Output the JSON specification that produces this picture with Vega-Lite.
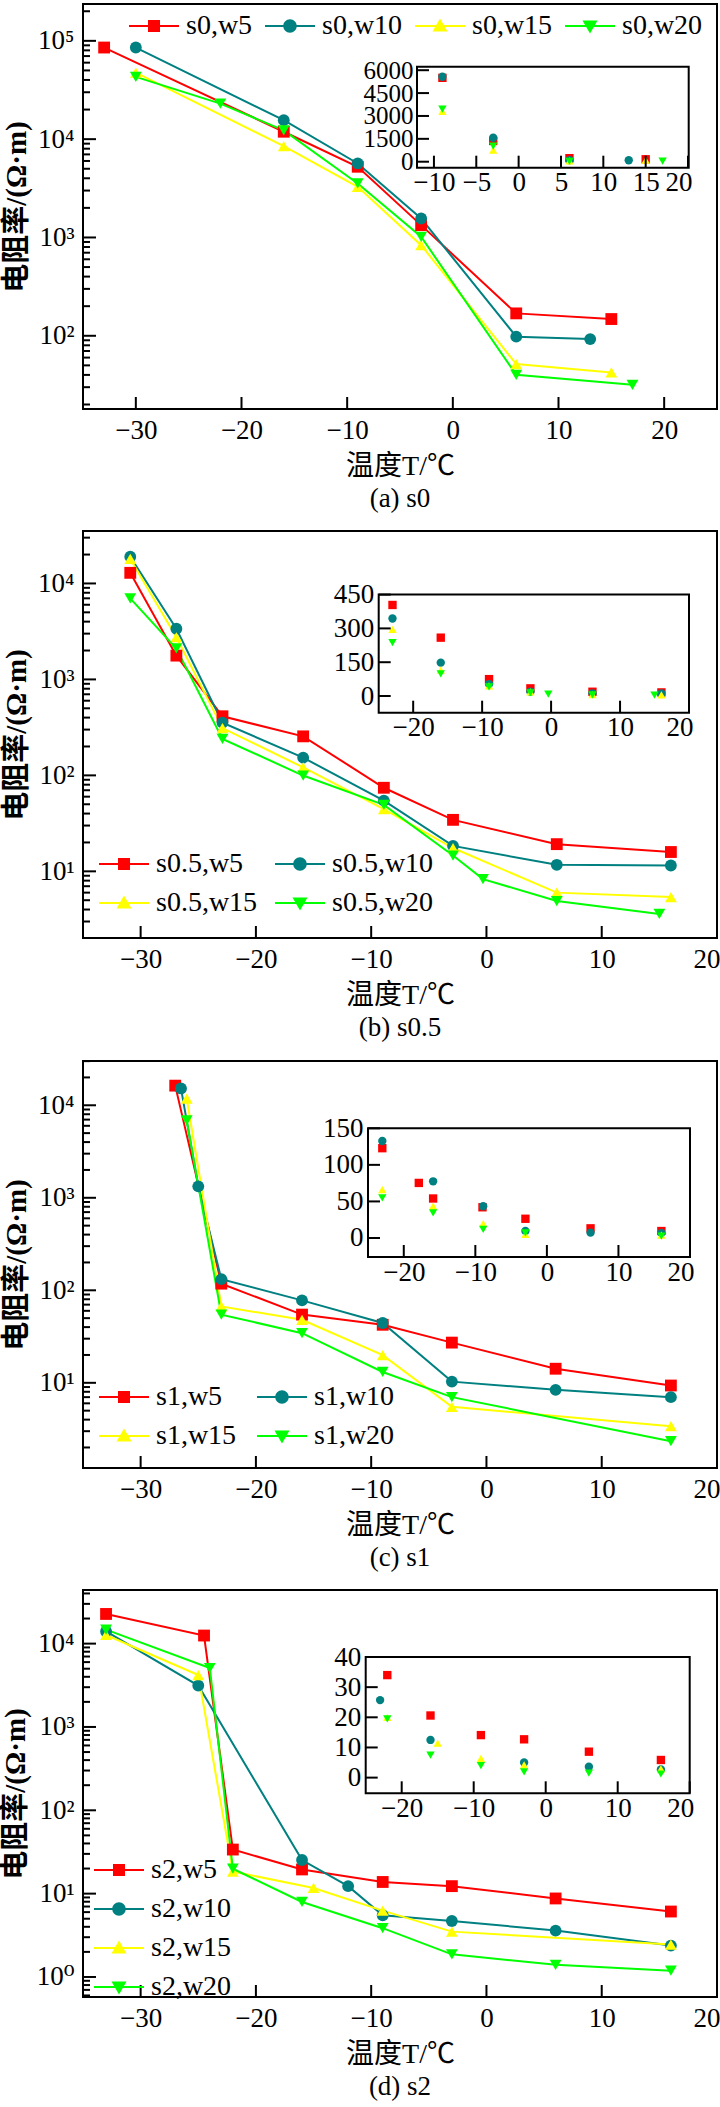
{
"$schema": "https://vega.github.io/schema/vega-lite/v6.json",
"padding": {"left": 0, "top": 0, "right": 0, "bottom": 0},
"background": "white",
"spacing": 17,
"datasets": {
"a": [
{"s":"s0,w5","T":-33,"R":85500},{"s":"s0,w5","T":-16,"R":11900},{"s":"s0,w5","T":-9,"R":5240},{"s":"s0,w5","T":-3,"R":1335},{"s":"s0,w5","T":6,"R":169},{"s":"s0,w5","T":15,"R":148},
{"s":"s0,w10","T":-30,"R":85500},{"s":"s0,w10","T":-16,"R":15600},{"s":"s0,w10","T":-9,"R":5660},{"s":"s0,w10","T":-3,"R":1560},{"s":"s0,w10","T":6,"R":98},{"s":"s0,w10","T":13,"R":92.5},
{"s":"s0,w15","T":-30,"R":47600},{"s":"s0,w15","T":-16,"R":8490},{"s":"s0,w15","T":-9,"R":3270},{"s":"s0,w15","T":-3,"R":835},{"s":"s0,w15","T":6,"R":51.5},{"s":"s0,w15","T":15,"R":42.4},
{"s":"s0,w20","T":-30,"R":43000},{"s":"s0,w20","T":-22,"R":23000},{"s":"s0,w20","T":-16,"R":12300},{"s":"s0,w20","T":-9,"R":3540},{"s":"s0,w20","T":-3,"R":1016},{"s":"s0,w20","T":6,"R":40.1},{"s":"s0,w20","T":17,"R":31.7}
],
"ai": [
{"s":"s0,w5","T":-9,"R":5500},{"s":"s0,w5","T":-3,"R":1360},{"s":"s0,w5","T":6,"R":230},{"s":"s0,w5","T":15,"R":160},
{"s":"s0,w10","T":-9,"R":5570},{"s":"s0,w10","T":-3,"R":1572},{"s":"s0,w10","T":6,"R":100},{"s":"s0,w10","T":13,"R":92},
{"s":"s0,w15","T":-9,"R":3300},{"s":"s0,w15","T":-3,"R":766},{"s":"s0,w15","T":6,"R":60},{"s":"s0,w15","T":15,"R":100},
{"s":"s0,w20","T":-9,"R":3450},{"s":"s0,w20","T":-3,"R":1028},{"s":"s0,w20","T":6,"R":30},{"s":"s0,w20","T":17,"R":32}
],
"b": [
{"s":"s0.5,w5","T":-30.9,"R":12900},{"s":"s0.5,w5","T":-26.9,"R":1770},{"s":"s0.5,w5","T":-22.9,"R":413},{"s":"s0.5,w5","T":-15.9,"R":255},{"s":"s0.5,w5","T":-8.9,"R":74.3},{"s":"s0.5,w5","T":-2.9,"R":34.4},{"s":"s0.5,w5","T":6.1,"R":19.2},{"s":"s0.5,w5","T":16,"R":15.9},
{"s":"s0.5,w10","T":-30.9,"R":19000},{"s":"s0.5,w10","T":-26.9,"R":3370},{"s":"s0.5,w10","T":-22.9,"R":354},{"s":"s0.5,w10","T":-15.9,"R":153},{"s":"s0.5,w10","T":-8.9,"R":54.6},{"s":"s0.5,w10","T":-2.9,"R":18.4},{"s":"s0.5,w10","T":6.1,"R":11.7},{"s":"s0.5,w10","T":16,"R":11.5},
{"s":"s0.5,w15","T":-30.9,"R":18000},{"s":"s0.5,w15","T":-26.9,"R":2750},{"s":"s0.5,w15","T":-22.9,"R":311},{"s":"s0.5,w15","T":-15.9,"R":121},{"s":"s0.5,w15","T":-8.9,"R":44.5},{"s":"s0.5,w15","T":-2.9,"R":17.5},{"s":"s0.5,w15","T":6.1,"R":6.0},{"s":"s0.5,w15","T":16,"R":5.4},
{"s":"s0.5,w20","T":-30.9,"R":6980},{"s":"s0.5,w20","T":-26.9,"R":2100},{"s":"s0.5,w20","T":-22.9,"R":240},{"s":"s0.5,w20","T":-15.9,"R":99.6},{"s":"s0.5,w20","T":-8.9,"R":49.3},{"s":"s0.5,w20","T":-2.9,"R":14.6},{"s":"s0.5,w20","T":-0.3,"R":8.3},{"s":"s0.5,w20","T":6.1,"R":4.9},{"s":"s0.5,w20","T":15,"R":3.6}
],
"bi": [
{"s":"s0.5,w5","T":-23,"R":404},{"s":"s0.5,w5","T":-16,"R":259},{"s":"s0.5,w5","T":-9,"R":75},{"s":"s0.5,w5","T":-3,"R":34},{"s":"s0.5,w5","T":6,"R":19},{"s":"s0.5,w5","T":16,"R":16},
{"s":"s0.5,w10","T":-23,"R":344},{"s":"s0.5,w10","T":-16,"R":148},{"s":"s0.5,w10","T":-9,"R":53},{"s":"s0.5,w10","T":-3,"R":19},{"s":"s0.5,w10","T":6,"R":12},{"s":"s0.5,w10","T":16,"R":11.5},
{"s":"s0.5,w15","T":-23,"R":296},{"s":"s0.5,w15","T":-16,"R":115},{"s":"s0.5,w15","T":-9,"R":45},{"s":"s0.5,w15","T":-3,"R":18},{"s":"s0.5,w15","T":6,"R":6},{"s":"s0.5,w15","T":16,"R":5.4},
{"s":"s0.5,w20","T":-23,"R":237},{"s":"s0.5,w20","T":-16,"R":98},{"s":"s0.5,w20","T":-9,"R":41},{"s":"s0.5,w20","T":-3,"R":14},{"s":"s0.5,w20","T":-0.4,"R":8},{"s":"s0.5,w20","T":6,"R":5},{"s":"s0.5,w20","T":15,"R":3.6}
],
"c": [
{"s":"s1,w5","T":-27,"R":16300},{"s":"s1,w5","T":-23,"R":118},{"s":"s1,w5","T":-16,"R":54.6},{"s":"s1,w5","T":-9,"R":42.4},{"s":"s1,w5","T":-3,"R":27.2},{"s":"s1,w5","T":6,"R":14.2},{"s":"s1,w5","T":16,"R":9.35},
{"s":"s1,w10","T":-26.5,"R":15200},{"s":"s1,w10","T":-25,"R":1330},{"s":"s1,w10","T":-23,"R":132},{"s":"s1,w10","T":-16,"R":77.8},{"s":"s1,w10","T":-9,"R":44.3},{"s":"s1,w10","T":-3,"R":10.3},{"s":"s1,w10","T":6,"R":8.4},{"s":"s1,w10","T":16,"R":7.0},
{"s":"s1,w15","T":-26,"R":11800},{"s":"s1,w15","T":-23,"R":67},{"s":"s1,w15","T":-16,"R":48},{"s":"s1,w15","T":-9,"R":19.9},{"s":"s1,w15","T":-3,"R":5.5},{"s":"s1,w15","T":16,"R":3.4},
{"s":"s1,w20","T":-26,"R":6850},{"s":"s1,w20","T":-23,"R":54.6},{"s":"s1,w20","T":-16,"R":34.4},{"s":"s1,w20","T":-9,"R":13.1},{"s":"s1,w20","T":-3,"R":7.0},{"s":"s1,w20","T":16,"R":2.34}
],
"ci": [
{"s":"s1,w5","T":-23,"R":122.8},{"s":"s1,w5","T":-17.9,"R":75.3},{"s":"s1,w5","T":-15.9,"R":54},{"s":"s1,w5","T":-9,"R":42},{"s":"s1,w5","T":-3,"R":26.3},{"s":"s1,w5","T":6.1,"R":13.2},{"s":"s1,w5","T":16,"R":9.5},
{"s":"s1,w10","T":-23,"R":132.7},{"s":"s1,w10","T":-15.9,"R":77.5},{"s":"s1,w10","T":-8.9,"R":43.5},{"s":"s1,w10","T":-3,"R":9.5},{"s":"s1,w10","T":6.1,"R":7.3},{"s":"s1,w10","T":16,"R":7},
{"s":"s1,w15","T":-23,"R":66},{"s":"s1,w15","T":-15.9,"R":43.5},{"s":"s1,w15","T":-8.9,"R":19.5},{"s":"s1,w15","T":-3,"R":5},{"s":"s1,w15","T":16,"R":4},
{"s":"s1,w20","T":-23,"R":55},{"s":"s1,w20","T":-15.9,"R":34.5},{"s":"s1,w20","T":-8.9,"R":11.8},{"s":"s1,w20","T":-3,"R":7},{"s":"s1,w20","T":16,"R":2.5}
],
"d": [
{"s":"s2,w5","T":-33,"R":22700},{"s":"s2,w5","T":-24.5,"R":12500},{"s":"s2,w5","T":-22,"R":33.8},{"s":"s2,w5","T":-16,"R":19.5},{"s":"s2,w5","T":-9,"R":13.8},{"s":"s2,w5","T":-3,"R":12.3},{"s":"s2,w5","T":6,"R":8.75},{"s":"s2,w5","T":16,"R":6.1},
{"s":"s2,w10","T":-33,"R":14000},{"s":"s2,w10","T":-25,"R":3140},{"s":"s2,w10","T":-16,"R":25.3},{"s":"s2,w10","T":-12,"R":12.3},{"s":"s2,w10","T":-9,"R":5.5},{"s":"s2,w10","T":-3,"R":4.7},{"s":"s2,w10","T":6,"R":3.6},{"s":"s2,w10","T":16,"R":2.38},
{"s":"s2,w15","T":-33,"R":12700},{"s":"s2,w15","T":-25,"R":4200},{"s":"s2,w15","T":-22,"R":18.4},{"s":"s2,w15","T":-15,"R":11.7},{"s":"s2,w15","T":-9,"R":6.25},{"s":"s2,w15","T":-3,"R":3.5},{"s":"s2,w15","T":16,"R":2.45},
{"s":"s2,w20","T":-33,"R":14700},{"s":"s2,w20","T":-24,"R":5090},{"s":"s2,w20","T":-22,"R":19.9},{"s":"s2,w20","T":-16,"R":7.94},{"s":"s2,w20","T":-9,"R":3.85},{"s":"s2,w20","T":-3,"R":1.87},{"s":"s2,w20","T":6,"R":1.4},{"s":"s2,w20","T":16,"R":1.19}
],
"di": [
{"s":"s2,w5","T":-22,"R":34},{"s":"s2,w5","T":-16,"R":20.6},{"s":"s2,w5","T":-9,"R":14.1},{"s":"s2,w5","T":-3,"R":12.7},{"s":"s2,w5","T":6,"R":8.6},{"s":"s2,w5","T":16,"R":5.85},
{"s":"s2,w10","T":-23,"R":25.7},{"s":"s2,w10","T":-16,"R":12.5},{"s":"s2,w10","T":-3,"R":5},{"s":"s2,w10","T":6,"R":3.6},{"s":"s2,w10","T":16,"R":2.7},
{"s":"s2,w15","T":-22,"R":20},{"s":"s2,w15","T":-15,"R":11.4},{"s":"s2,w15","T":-9,"R":6.4},{"s":"s2,w15","T":-3,"R":4.2},{"s":"s2,w15","T":16,"R":2.9},
{"s":"s2,w20","T":-22,"R":19.5},{"s":"s2,w20","T":-16,"R":7.5},{"s":"s2,w20","T":-9,"R":4},{"s":"s2,w20","T":-3,"R":1.9},{"s":"s2,w20","T":6,"R":1.5},{"s":"s2,w20","T":16,"R":1.2}
],
"xt": [{"v":-30},{"v":-20},{"v":-10},{"v":0},{"v":10},{"v":20}],
"yma": [{"v":100},{"v":1000},{"v":10000},{"v":100000}],
"ymi_a": [{"v":20},{"v":30},{"v":40},{"v":50},{"v":60},{"v":70},{"v":80},{"v":90},{"v":200},{"v":300},{"v":400},{"v":500},{"v":600},{"v":700},{"v":800},{"v":900},{"v":2000},{"v":3000},{"v":4000},{"v":5000},{"v":6000},{"v":7000},{"v":8000},{"v":9000},{"v":20000},{"v":30000},{"v":40000},{"v":50000},{"v":60000},{"v":70000},{"v":80000},{"v":90000},{"v":200000}],
"ymbc": [{"v":10},{"v":100},{"v":1000},{"v":10000}],
"ymi_b": [{"v":3},{"v":4},{"v":5},{"v":6},{"v":7},{"v":8},{"v":9},{"v":20},{"v":30},{"v":40},{"v":50},{"v":60},{"v":70},{"v":80},{"v":90},{"v":200},{"v":300},{"v":400},{"v":500},{"v":600},{"v":700},{"v":800},{"v":900},{"v":2000},{"v":3000},{"v":4000},{"v":5000},{"v":6000},{"v":7000},{"v":8000},{"v":9000},{"v":20000},{"v":30000}],
"ymi_c": [{"v":2},{"v":3},{"v":4},{"v":5},{"v":6},{"v":7},{"v":8},{"v":9},{"v":20},{"v":30},{"v":40},{"v":50},{"v":60},{"v":70},{"v":80},{"v":90},{"v":200},{"v":300},{"v":400},{"v":500},{"v":600},{"v":700},{"v":800},{"v":900},{"v":2000},{"v":3000},{"v":4000},{"v":5000},{"v":6000},{"v":7000},{"v":8000},{"v":9000},{"v":20000},{"v":30000}],
"ymd": [{"v":1},{"v":10},{"v":100},{"v":1000},{"v":10000}],
"ymi_d": [{"v":0.6},{"v":0.7},{"v":0.8},{"v":0.9},{"v":2},{"v":3},{"v":4},{"v":5},{"v":6},{"v":7},{"v":8},{"v":9},{"v":20},{"v":30},{"v":40},{"v":50},{"v":60},{"v":70},{"v":80},{"v":90},{"v":200},{"v":300},{"v":400},{"v":500},{"v":600},{"v":700},{"v":800},{"v":900},{"v":2000},{"v":3000},{"v":4000},{"v":5000},{"v":6000},{"v":7000},{"v":8000},{"v":9000},{"v":20000},{"v":30000},{"v":40000}],
"ixa": [{"v":-10},{"v":-5},{"v":0},{"v":5},{"v":10},{"v":15},{"v":20}],
"iya": [{"v":0},{"v":1500},{"v":3000},{"v":4500},{"v":6000}],
"ix": [{"v":-20},{"v":-10},{"v":0},{"v":10},{"v":20}],
"iyb": [{"v":0},{"v":150},{"v":300},{"v":450}],
"iyc": [{"v":0},{"v":50},{"v":100},{"v":150}],
"iyd": [{"v":0},{"v":10},{"v":20},{"v":30},{"v":40}]
},
"vconcat": [
{
"width": 634, "height": 405,
"title": {"text": "(a) s0"},
"layer": [
{
"data": {"name": "a"},
"layer": [
{"mark": {"type": "line", "strokeWidth": 2},
 "encoding": {
  "x": {"field": "T", "type": "quantitative", "scale": {"domain": [-35, 25], "nice": false, "zero": false}, "axis": {"values": [-30,-20,-10,0,10,20], "title": "温度T/℃", "ticks": false, "tickSize": 0, "labelPadding": 8}},
  "y": {"field": "R", "type": "quantitative", "scale": {"type": "log", "domain": [18, 237000], "nice": false}, "axis": {"orient": "left", "ticks": false, "tickSize": 0, "labelPadding": 9, "values": [100,1000,10000,100000], "title": "电阻率/(Ω·m)", "labelExpr": "datum.value < 5 ? '10⁰' : datum.value < 50 ? '10¹' : datum.value < 500 ? '10²' : datum.value < 5000 ? '10³' : datum.value < 50000 ? '10⁴' : '10⁵'"}},
  "color": {"field": "s", "type": "nominal", "scale": {"domain": ["s0,w5","s0,w10","s0,w15","s0,w20"], "range": ["#ff0000","#008080","#ffff00","#00ff00"]}, "legend": null}
 }},
{"mark": {"type": "point", "filled": true, "size": 140, "opacity": 1},
 "encoding": {
  "x": {"field": "T", "type": "quantitative"},
  "y": {"field": "R", "type": "quantitative", "axis": null},
  "color": {"field": "s", "type": "nominal", "scale": {"domain": ["s0,w5","s0,w10","s0,w15","s0,w20"], "range": ["#ff0000","#008080","#ffff00","#00ff00"]}, "legend": null},
  "shape": {"field": "s", "type": "nominal", "scale": {"domain": ["s0,w5","s0,w10","s0,w15","s0,w20"], "range": ["square","circle","triangle-up","triangle-down"]}, "legend": null}
 }},
{"data": {"name": "yma"}, "mark": {"type": "tick", "orient": "horizontal", "size": 13, "thickness": 2, "color": "black", "opacity": 1, "xOffset": 6.5},
 "encoding": {"x": {"datum": -35, "type": "quantitative"}, "y": {"field": "v", "type": "quantitative", "axis": null}}},
{"data": {"name": "ymi_a"}, "mark": {"type": "tick", "orient": "horizontal", "size": 7, "thickness": 2, "color": "black", "opacity": 1, "xOffset": 3.5},
 "encoding": {"x": {"datum": -35, "type": "quantitative"}, "y": {"field": "v", "type": "quantitative", "axis": null}}},
{"data": {"name": "xt"}, "mark": {"type": "tick", "orient": "vertical", "size": 12, "thickness": 2, "color": "black", "opacity": 1, "yOffset": -6},
 "encoding": {"x": {"field": "v", "type": "quantitative"}, "y": {"datum": 18, "type": "quantitative", "axis": null}}}
],
"resolve": {"axis": {"y": "independent"}}
},
{
"layer": [
{"data": {"values": [{}]},
 "mark": {"type": "rect", "fillOpacity": 0, "stroke": "black", "strokeWidth": 2},
 "encoding": {
  "x": {"datum": -12, "type": "quantitative", "scale": {"domain": [-12, 20.08], "range": [334, 605.7], "nice": false, "zero": false}, "axis": {"orient": "bottom", "offset": -241.3, "values": [-10,-5,0,5,10,15,20], "title": null, "ticks": false, "tickSize": 0, "labelPadding": 2, "labelFlush": true, "labelFlushOffset": 4}},
  "x2": {"datum": 20.08},
  "y": {"datum": -393, "type": "quantitative", "scale": {"domain": [-393, 6230], "range": [163.7, 62.7], "nice": false, "zero": false}, "axis": {"orient": "left", "offset": -334, "values": [0,1500,3000,4500,6000], "format": "d", "labelFontSize": 25, "title": null, "ticks": false, "tickSize": 0, "labelPadding": 4}},
  "y2": {"datum": 6230}
 }},
{"data": {"name": "ai"},
 "mark": {"type": "point", "filled": true, "size": 70, "opacity": 1},
 "encoding": {
  "x": {"field": "T", "type": "quantitative"},
  "y": {"field": "R", "type": "quantitative"},
  "color": {"field": "s", "type": "nominal", "scale": {"domain": ["s0,w5","s0,w10","s0,w15","s0,w20"], "range": ["#ff0000","#008080","#ffff00","#00ff00"]}, "legend": null},
  "shape": {"field": "s", "type": "nominal", "scale": {"domain": ["s0,w5","s0,w10","s0,w15","s0,w20"], "range": ["square","circle","triangle-up","triangle-down"]}, "legend": null}
 }},
{"data": {"name": "ixa"}, "mark": {"type": "tick", "orient": "vertical", "size": 12, "thickness": 2, "color": "black", "opacity": 1, "yOffset": -6},
 "encoding": {"x": {"field": "v", "type": "quantitative"}, "y": {"datum": -393, "type": "quantitative"}}},
{"data": {"name": "iya"}, "mark": {"type": "tick", "orient": "horizontal", "size": 12, "thickness": 2, "color": "black", "opacity": 1, "xOffset": 6},
 "encoding": {"x": {"datum": -12, "type": "quantitative"}, "y": {"field": "v", "type": "quantitative"}}},
{"data": {"name": "a"},
 "transform": [{"filter": "false"}],
 "mark": {"type": "point", "filled": true},
 "encoding": {
  "x": {"field": "T", "type": "quantitative"},
  "y": {"field": "R", "type": "quantitative"},
  "color": {"field": "s", "type": "nominal", "scale": {"domain": ["s0,w5","s0,w10","s0,w15","s0,w20"], "range": ["#ff0000","#008080","#ffff00","#00ff00"]}, "legend": {"orient": "none", "legendX": 46, "legendY": -3, "direction": "horizontal", "columns": 4, "columnPadding": 12, "rowPadding": 0, "title": null}},
  "shape": {"field": "s", "type": "nominal", "scale": {"domain": ["s0,w5","s0,w10","s0,w15","s0,w20"], "range": ["M-1,-0.04H1V0.04H-1Z M-0.24,-0.24H0.24V0.24H-0.24Z","M-1,-0.04H1V0.04H-1Z M-0.27,0A0.27,0.27,0,1,1,0.27,0A0.27,0.27,0,1,1,-0.27,0Z","M-1,-0.04H1V0.04H-1Z M0,-0.3L0.3,0.22L-0.3,0.22Z","M-1,-0.04H1V0.04H-1Z M0,0.3L-0.3,-0.22L0.3,-0.22Z"]}, "legend": {"orient": "none", "legendX": 46, "legendY": -3, "direction": "horizontal", "columns": 4, "columnPadding": 12, "rowPadding": 0, "title": null}}
 }}
],
"resolve": {"scale": {"color": "independent", "shape": "independent"}, "legend": {"color": "independent", "shape": "independent"}}
}
],
"resolve": {"scale": {"x": "independent", "y": "independent", "color": "independent", "shape": "independent"}, "axis": {"x": "independent", "y": "independent"}, "legend": {"color": "independent", "shape": "independent"}}
},
{
"width": 634, "height": 407,
"title": {"text": "(b) s0.5"},
"layer": [
{
"data": {"name": "b"},
"layer": [
{"mark": {"type": "line", "strokeWidth": 2},
 "encoding": {
  "x": {"field": "T", "type": "quantitative", "scale": {"domain": [-35, 20], "nice": false, "zero": false}, "axis": {"values": [-30,-20,-10,0,10,20], "title": "温度T/℃", "ticks": false, "tickSize": 0, "labelPadding": 8, "labelFlush": true, "labelFlushOffset": 3}},
  "y": {"field": "R", "type": "quantitative", "scale": {"type": "log", "domain": [2.02, 35200], "nice": false}, "axis": {"orient": "left", "ticks": false, "tickSize": 0, "labelPadding": 9, "values": [10,100,1000,10000], "title": "电阻率/(Ω·m)", "labelExpr": "datum.value < 5 ? '10⁰' : datum.value < 50 ? '10¹' : datum.value < 500 ? '10²' : datum.value < 5000 ? '10³' : datum.value < 50000 ? '10⁴' : '10⁵'"}},
  "color": {"field": "s", "type": "nominal", "scale": {"domain": ["s0.5,w5","s0.5,w10","s0.5,w15","s0.5,w20"], "range": ["#ff0000","#008080","#ffff00","#00ff00"]}, "legend": null}
 }},
{"mark": {"type": "point", "filled": true, "size": 140, "opacity": 1},
 "encoding": {
  "x": {"field": "T", "type": "quantitative"},
  "y": {"field": "R", "type": "quantitative", "axis": null},
  "color": {"field": "s", "type": "nominal", "scale": {"domain": ["s0.5,w5","s0.5,w10","s0.5,w15","s0.5,w20"], "range": ["#ff0000","#008080","#ffff00","#00ff00"]}, "legend": null},
  "shape": {"field": "s", "type": "nominal", "scale": {"domain": ["s0.5,w5","s0.5,w10","s0.5,w15","s0.5,w20"], "range": ["square","circle","triangle-up","triangle-down"]}, "legend": null}
 }},
{"data": {"name": "ymbc"}, "mark": {"type": "tick", "orient": "horizontal", "size": 13, "thickness": 2, "color": "black", "opacity": 1, "xOffset": 6.5},
 "encoding": {"x": {"datum": -35, "type": "quantitative"}, "y": {"field": "v", "type": "quantitative", "axis": null}}},
{"data": {"name": "ymi_b"}, "mark": {"type": "tick", "orient": "horizontal", "size": 7, "thickness": 2, "color": "black", "opacity": 1, "xOffset": 3.5},
 "encoding": {"x": {"datum": -35, "type": "quantitative"}, "y": {"field": "v", "type": "quantitative", "axis": null}}},
{"data": {"name": "xt"}, "mark": {"type": "tick", "orient": "vertical", "size": 12, "thickness": 2, "color": "black", "opacity": 1, "yOffset": -6},
 "encoding": {"x": {"field": "v", "type": "quantitative"}, "y": {"datum": 2.02, "type": "quantitative", "axis": null}}}
],
"resolve": {"axis": {"y": "independent"}}
},
{
"layer": [
{"data": {"values": [{}]},
 "mark": {"type": "rect", "fillOpacity": 0, "stroke": "black", "strokeWidth": 2},
 "encoding": {
  "x": {"datum": -25, "type": "quantitative", "scale": {"domain": [-25, 20], "range": [295.7, 606], "nice": false, "zero": false}, "axis": {"orient": "bottom", "offset": -225.3, "values": [-20,-10,0,10,20], "title": null, "ticks": false, "tickSize": 0, "labelPadding": 2, "labelFlush": true, "labelFlushOffset": 4}},
  "x2": {"datum": 20},
  "y": {"datum": -74, "type": "quantitative", "scale": {"domain": [-74, 450], "range": [181.7, 63.6], "nice": false, "zero": false}, "axis": {"orient": "left", "offset": -295.7, "values": [0,150,300,450], "format": "d", "title": null, "ticks": false, "tickSize": 0, "labelPadding": 5}},
  "y2": {"datum": 450}
 }},
{"data": {"name": "bi"},
 "mark": {"type": "point", "filled": true, "size": 70, "opacity": 1},
 "encoding": {
  "x": {"field": "T", "type": "quantitative"},
  "y": {"field": "R", "type": "quantitative"},
  "color": {"field": "s", "type": "nominal", "scale": {"domain": ["s0.5,w5","s0.5,w10","s0.5,w15","s0.5,w20"], "range": ["#ff0000","#008080","#ffff00","#00ff00"]}, "legend": null},
  "shape": {"field": "s", "type": "nominal", "scale": {"domain": ["s0.5,w5","s0.5,w10","s0.5,w15","s0.5,w20"], "range": ["square","circle","triangle-up","triangle-down"]}, "legend": null}
 }},
{"data": {"name": "ix"}, "mark": {"type": "tick", "orient": "vertical", "size": 12, "thickness": 2, "color": "black", "opacity": 1, "yOffset": -6},
 "encoding": {"x": {"field": "v", "type": "quantitative"}, "y": {"datum": -74, "type": "quantitative"}}},
{"data": {"name": "iyb"}, "mark": {"type": "tick", "orient": "horizontal", "size": 12, "thickness": 2, "color": "black", "opacity": 1, "xOffset": 6},
 "encoding": {"x": {"datum": -25, "type": "quantitative"}, "y": {"field": "v", "type": "quantitative"}}},
{"data": {"name": "b"},
 "transform": [{"filter": "false"}],
 "mark": {"type": "point", "filled": true},
 "encoding": {
  "x": {"field": "T", "type": "quantitative"},
  "y": {"field": "R", "type": "quantitative"},
  "color": {"field": "s", "type": "nominal", "scale": {"domain": ["s0.5,w5","s0.5,w10","s0.5,w15","s0.5,w20"], "range": ["#ff0000","#008080","#ffff00","#00ff00"]}, "legend": {"orient": "none", "legendX": 16, "legendY": 308, "direction": "horizontal", "columns": 2, "columnPadding": 17, "rowPadding": -11, "title": null}},
  "shape": {"field": "s", "type": "nominal", "scale": {"domain": ["s0.5,w5","s0.5,w10","s0.5,w15","s0.5,w20"], "range": ["M-1,-0.04H1V0.04H-1Z M-0.24,-0.24H0.24V0.24H-0.24Z","M-1,-0.04H1V0.04H-1Z M-0.27,0A0.27,0.27,0,1,1,0.27,0A0.27,0.27,0,1,1,-0.27,0Z","M-1,-0.04H1V0.04H-1Z M0,-0.3L0.3,0.22L-0.3,0.22Z","M-1,-0.04H1V0.04H-1Z M0,0.3L-0.3,-0.22L0.3,-0.22Z"]}, "legend": {"orient": "none", "legendX": 16, "legendY": 308, "direction": "horizontal", "columns": 2, "columnPadding": 17, "rowPadding": -11, "title": null}}
 }}
],
"resolve": {"scale": {"color": "independent", "shape": "independent"}, "legend": {"color": "independent", "shape": "independent"}}
}
],
"resolve": {"scale": {"x": "independent", "y": "independent", "color": "independent", "shape": "independent"}, "axis": {"x": "independent", "y": "independent"}, "legend": {"color": "independent", "shape": "independent"}}
},
{
"width": 634, "height": 407,
"title": {"text": "(c) s1"},
"layer": [
{
"data": {"name": "c"},
"layer": [
{"mark": {"type": "line", "strokeWidth": 2},
 "encoding": {
  "x": {"field": "T", "type": "quantitative", "scale": {"domain": [-35, 20], "nice": false, "zero": false}, "axis": {"values": [-30,-20,-10,0,10,20], "title": "温度T/℃", "ticks": false, "tickSize": 0, "labelPadding": 8, "labelFlush": true, "labelFlushOffset": 3}},
  "y": {"field": "R", "type": "quantitative", "scale": {"type": "log", "domain": [1.2, 30100], "nice": false}, "axis": {"orient": "left", "ticks": false, "tickSize": 0, "labelPadding": 9, "values": [10,100,1000,10000], "title": "电阻率/(Ω·m)", "labelExpr": "datum.value < 5 ? '10⁰' : datum.value < 50 ? '10¹' : datum.value < 500 ? '10²' : datum.value < 5000 ? '10³' : datum.value < 50000 ? '10⁴' : '10⁵'"}},
  "color": {"field": "s", "type": "nominal", "scale": {"domain": ["s1,w5","s1,w10","s1,w15","s1,w20"], "range": ["#ff0000","#008080","#ffff00","#00ff00"]}, "legend": null}
 }},
{"mark": {"type": "point", "filled": true, "size": 140, "opacity": 1},
 "encoding": {
  "x": {"field": "T", "type": "quantitative"},
  "y": {"field": "R", "type": "quantitative", "axis": null},
  "color": {"field": "s", "type": "nominal", "scale": {"domain": ["s1,w5","s1,w10","s1,w15","s1,w20"], "range": ["#ff0000","#008080","#ffff00","#00ff00"]}, "legend": null},
  "shape": {"field": "s", "type": "nominal", "scale": {"domain": ["s1,w5","s1,w10","s1,w15","s1,w20"], "range": ["square","circle","triangle-up","triangle-down"]}, "legend": null}
 }},
{"data": {"name": "ymbc"}, "mark": {"type": "tick", "orient": "horizontal", "size": 13, "thickness": 2, "color": "black", "opacity": 1, "xOffset": 6.5},
 "encoding": {"x": {"datum": -35, "type": "quantitative"}, "y": {"field": "v", "type": "quantitative", "axis": null}}},
{"data": {"name": "ymi_c"}, "mark": {"type": "tick", "orient": "horizontal", "size": 7, "thickness": 2, "color": "black", "opacity": 1, "xOffset": 3.5},
 "encoding": {"x": {"datum": -35, "type": "quantitative"}, "y": {"field": "v", "type": "quantitative", "axis": null}}},
{"data": {"name": "xt"}, "mark": {"type": "tick", "orient": "vertical", "size": 12, "thickness": 2, "color": "black", "opacity": 1, "yOffset": -6},
 "encoding": {"x": {"field": "v", "type": "quantitative"}, "y": {"datum": 1.2, "type": "quantitative", "axis": null}}}
],
"resolve": {"axis": {"y": "independent"}}
},
{
"layer": [
{"data": {"values": [{}]},
 "mark": {"type": "rect", "fillOpacity": 0, "stroke": "black", "strokeWidth": 2},
 "encoding": {
  "x": {"datum": -25, "type": "quantitative", "scale": {"domain": [-25, 20], "range": [285, 607], "nice": false, "zero": false}, "axis": {"orient": "bottom", "offset": -211, "values": [-20,-10,0,10,20], "title": null, "ticks": false, "tickSize": 0, "labelPadding": 2, "labelFlush": true, "labelFlushOffset": 4}},
  "x2": {"datum": 20},
  "y": {"datum": -26, "type": "quantitative", "scale": {"domain": [-26, 150], "range": [196, 67.3], "nice": false, "zero": false}, "axis": {"orient": "left", "offset": -285, "values": [0,50,100,150], "format": "d", "title": null, "ticks": false, "tickSize": 0, "labelPadding": 5}},
  "y2": {"datum": 150}
 }},
{"data": {"name": "ci"},
 "mark": {"type": "point", "filled": true, "size": 70, "opacity": 1},
 "encoding": {
  "x": {"field": "T", "type": "quantitative"},
  "y": {"field": "R", "type": "quantitative"},
  "color": {"field": "s", "type": "nominal", "scale": {"domain": ["s1,w5","s1,w10","s1,w15","s1,w20"], "range": ["#ff0000","#008080","#ffff00","#00ff00"]}, "legend": null},
  "shape": {"field": "s", "type": "nominal", "scale": {"domain": ["s1,w5","s1,w10","s1,w15","s1,w20"], "range": ["square","circle","triangle-up","triangle-down"]}, "legend": null}
 }},
{"data": {"name": "ix"}, "mark": {"type": "tick", "orient": "vertical", "size": 12, "thickness": 2, "color": "black", "opacity": 1, "yOffset": -6},
 "encoding": {"x": {"field": "v", "type": "quantitative"}, "y": {"datum": -26, "type": "quantitative"}}},
{"data": {"name": "iyc"}, "mark": {"type": "tick", "orient": "horizontal", "size": 12, "thickness": 2, "color": "black", "opacity": 1, "xOffset": 6},
 "encoding": {"x": {"datum": -25, "type": "quantitative"}, "y": {"field": "v", "type": "quantitative"}}},
{"data": {"name": "c"},
 "transform": [{"filter": "false"}],
 "mark": {"type": "point", "filled": true},
 "encoding": {
  "x": {"field": "T", "type": "quantitative"},
  "y": {"field": "R", "type": "quantitative"},
  "color": {"field": "s", "type": "nominal", "scale": {"domain": ["s1,w5","s1,w10","s1,w15","s1,w20"], "range": ["#ff0000","#008080","#ffff00","#00ff00"]}, "legend": {"orient": "none", "legendX": 16, "legendY": 311, "direction": "horizontal", "columns": 2, "columnPadding": 20, "rowPadding": -10, "title": null}},
  "shape": {"field": "s", "type": "nominal", "scale": {"domain": ["s1,w5","s1,w10","s1,w15","s1,w20"], "range": ["M-1,-0.04H1V0.04H-1Z M-0.24,-0.24H0.24V0.24H-0.24Z","M-1,-0.04H1V0.04H-1Z M-0.27,0A0.27,0.27,0,1,1,0.27,0A0.27,0.27,0,1,1,-0.27,0Z","M-1,-0.04H1V0.04H-1Z M0,-0.3L0.3,0.22L-0.3,0.22Z","M-1,-0.04H1V0.04H-1Z M0,0.3L-0.3,-0.22L0.3,-0.22Z"]}, "legend": {"orient": "none", "legendX": 16, "legendY": 311, "direction": "horizontal", "columns": 2, "columnPadding": 20, "rowPadding": -10, "title": null}}
 }}
],
"resolve": {"scale": {"color": "independent", "shape": "independent"}, "legend": {"color": "independent", "shape": "independent"}}
}
],
"resolve": {"scale": {"x": "independent", "y": "independent", "color": "independent", "shape": "independent"}, "axis": {"x": "independent", "y": "independent"}, "legend": {"color": "independent", "shape": "independent"}}
},
{
"width": 634, "height": 407,
"title": {"text": "(d) s2"},
"layer": [
{
"data": {"name": "d"},
"layer": [
{"mark": {"type": "line", "strokeWidth": 2},
 "encoding": {
  "x": {"field": "T", "type": "quantitative", "scale": {"domain": [-35, 20], "nice": false, "zero": false}, "axis": {"values": [-30,-20,-10,0,10,20], "title": "温度T/℃", "ticks": false, "tickSize": 0, "labelPadding": 8, "labelFlush": true, "labelFlushOffset": 3}},
  "y": {"field": "R", "type": "quantitative", "scale": {"type": "log", "domain": [0.575, 44000], "nice": false}, "axis": {"orient": "left", "ticks": false, "tickSize": 0, "labelPadding": 9, "values": [1,10,100,1000,10000], "title": "电阻率/(Ω·m)", "labelExpr": "datum.value < 5 ? '10⁰' : datum.value < 50 ? '10¹' : datum.value < 500 ? '10²' : datum.value < 5000 ? '10³' : datum.value < 50000 ? '10⁴' : '10⁵'"}},
  "color": {"field": "s", "type": "nominal", "scale": {"domain": ["s2,w5","s2,w10","s2,w15","s2,w20"], "range": ["#ff0000","#008080","#ffff00","#00ff00"]}, "legend": null}
 }},
{"mark": {"type": "point", "filled": true, "size": 140, "opacity": 1},
 "encoding": {
  "x": {"field": "T", "type": "quantitative"},
  "y": {"field": "R", "type": "quantitative", "axis": null},
  "color": {"field": "s", "type": "nominal", "scale": {"domain": ["s2,w5","s2,w10","s2,w15","s2,w20"], "range": ["#ff0000","#008080","#ffff00","#00ff00"]}, "legend": null},
  "shape": {"field": "s", "type": "nominal", "scale": {"domain": ["s2,w5","s2,w10","s2,w15","s2,w20"], "range": ["square","circle","triangle-up","triangle-down"]}, "legend": null}
 }},
{"data": {"name": "ymd"}, "mark": {"type": "tick", "orient": "horizontal", "size": 13, "thickness": 2, "color": "black", "opacity": 1, "xOffset": 6.5},
 "encoding": {"x": {"datum": -35, "type": "quantitative"}, "y": {"field": "v", "type": "quantitative", "axis": null}}},
{"data": {"name": "ymi_d"}, "mark": {"type": "tick", "orient": "horizontal", "size": 7, "thickness": 2, "color": "black", "opacity": 1, "xOffset": 3.5},
 "encoding": {"x": {"datum": -35, "type": "quantitative"}, "y": {"field": "v", "type": "quantitative", "axis": null}}},
{"data": {"name": "xt"}, "mark": {"type": "tick", "orient": "vertical", "size": 12, "thickness": 2, "color": "black", "opacity": 1, "yOffset": -6},
 "encoding": {"x": {"field": "v", "type": "quantitative"}, "y": {"datum": 0.575, "type": "quantitative", "axis": null}}}
],
"resolve": {"axis": {"y": "independent"}}
},
{
"layer": [
{"data": {"values": [{}]},
 "mark": {"type": "rect", "fillOpacity": 0, "stroke": "black", "strokeWidth": 2},
 "encoding": {
  "x": {"datum": -25, "type": "quantitative", "scale": {"domain": [-25, 20], "range": [282.7, 606.7], "nice": false, "zero": false}, "axis": {"orient": "bottom", "offset": -203.7, "values": [-20,-10,0,10,20], "title": null, "ticks": false, "tickSize": 0, "labelPadding": 2, "labelFlush": true, "labelFlushOffset": 4}},
  "x2": {"datum": 20},
  "y": {"datum": -5.2, "type": "quantitative", "scale": {"domain": [-5.2, 40], "range": [203.3, 67], "nice": false, "zero": false}, "axis": {"orient": "left", "offset": -282.7, "values": [0,10,20,30,40], "format": "d", "title": null, "ticks": false, "tickSize": 0, "labelPadding": 5}},
  "y2": {"datum": 40}
 }},
{"data": {"name": "di"},
 "mark": {"type": "point", "filled": true, "size": 70, "opacity": 1},
 "encoding": {
  "x": {"field": "T", "type": "quantitative"},
  "y": {"field": "R", "type": "quantitative"},
  "color": {"field": "s", "type": "nominal", "scale": {"domain": ["s2,w5","s2,w10","s2,w15","s2,w20"], "range": ["#ff0000","#008080","#ffff00","#00ff00"]}, "legend": null},
  "shape": {"field": "s", "type": "nominal", "scale": {"domain": ["s2,w5","s2,w10","s2,w15","s2,w20"], "range": ["square","circle","triangle-up","triangle-down"]}, "legend": null}
 }},
{"data": {"name": "ix"}, "mark": {"type": "tick", "orient": "vertical", "size": 12, "thickness": 2, "color": "black", "opacity": 1, "yOffset": -6},
 "encoding": {"x": {"field": "v", "type": "quantitative"}, "y": {"datum": -5.2, "type": "quantitative"}}},
{"data": {"name": "iyd"}, "mark": {"type": "tick", "orient": "horizontal", "size": 12, "thickness": 2, "color": "black", "opacity": 1, "xOffset": 6},
 "encoding": {"x": {"datum": -25, "type": "quantitative"}, "y": {"field": "v", "type": "quantitative"}}},
{"data": {"name": "d"},
 "transform": [{"filter": "false"}],
 "mark": {"type": "point", "filled": true},
 "encoding": {
  "x": {"field": "T", "type": "quantitative"},
  "y": {"field": "R", "type": "quantitative"},
  "color": {"field": "s", "type": "nominal", "scale": {"domain": ["s2,w5","s2,w10","s2,w15","s2,w20"], "range": ["#ff0000","#008080","#ffff00","#00ff00"]}, "legend": {"orient": "none", "legendX": 11, "legendY": 255, "direction": "vertical", "columns": 1, "rowPadding": -17, "title": null}},
  "shape": {"field": "s", "type": "nominal", "scale": {"domain": ["s2,w5","s2,w10","s2,w15","s2,w20"], "range": ["M-1,-0.04H1V0.04H-1Z M-0.24,-0.24H0.24V0.24H-0.24Z","M-1,-0.04H1V0.04H-1Z M-0.27,0A0.27,0.27,0,1,1,0.27,0A0.27,0.27,0,1,1,-0.27,0Z","M-1,-0.04H1V0.04H-1Z M0,-0.3L0.3,0.22L-0.3,0.22Z","M-1,-0.04H1V0.04H-1Z M0,0.3L-0.3,-0.22L0.3,-0.22Z"]}, "legend": {"orient": "none", "legendX": 11, "legendY": 255, "direction": "vertical", "columns": 1, "rowPadding": -17, "title": null}}
 }}
],
"resolve": {"scale": {"color": "independent", "shape": "independent"}, "legend": {"color": "independent", "shape": "independent"}}
}
],
"resolve": {"scale": {"x": "independent", "y": "independent", "color": "independent", "shape": "independent"}, "axis": {"x": "independent", "y": "independent"}, "legend": {"color": "independent", "shape": "independent"}}
}
],
"resolve": {"scale": {"x": "independent", "y": "independent", "color": "independent", "shape": "independent"}, "legend": {"color": "independent", "shape": "independent"}},
"config": {
 "view": {"stroke": "black", "strokeWidth": 2},
 "axis": {"domain": false, "grid": false, "labelColor": "black", "labelFont": "Liberation Serif, DejaVu Serif", "labelFontSize": 27, "labelOverlap": false, "labelFlush": false, "titleColor": "black", "titleFont": "Liberation Serif, Noto Sans CJK SC", "titleFontSize": 28, "titleFontWeight": "normal"},
 "axisX": {"titlePadding": 9},
 "axisY": {"titlePadding": 6, "titleFontWeight": "bold", "titleFontSize": 29},
 "legend": {"symbolSize": 2500, "labelFontSize": 28, "labelFont": "Liberation Serif", "labelColor": "black", "labelOffset": 7, "padding": 0, "symbolStrokeWidth": 0, "symbolOpacity": 1, "labelLimit": 300},
 "title": {"font": "Liberation Serif", "fontSize": 27, "fontWeight": "normal", "color": "black", "orient": "bottom", "offset": 6, "anchor": "middle", "frame": "group"}
}
}
